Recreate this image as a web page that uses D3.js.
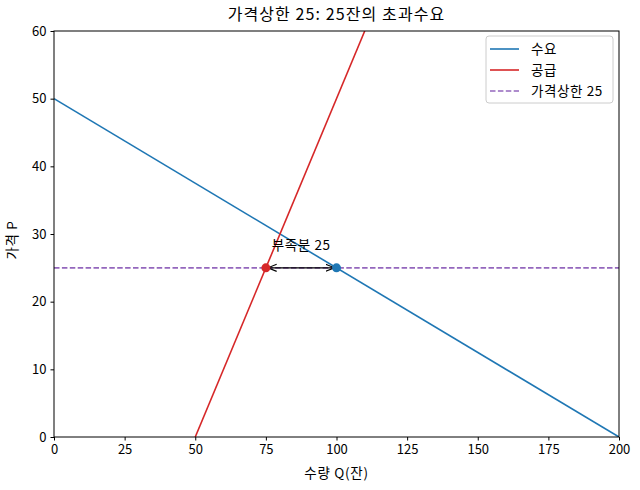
<!DOCTYPE html>
<html>
<head>
<meta charset="utf-8">
<script src="https://cdn.jsdelivr.net/npm/d3@7"></script>
<style>
  body { margin: 0; background: #fff; }
  text { font-family: "Noto Sans CJK KR", "Noto Sans", sans-serif; }
</style>
</head>
<body>
<div id="chart"></div>
<script>
// data
const demandQ = [0, 200];
const demandP = [50, 0];
const supplyQ = [50, 110];
const supplyP = [0, 60];
const ceilingPrice = 25;
const supplyAtCeiling = 75;
const demandAtCeiling = 100;
const xTicks = [0, 25, 50, 75, 100, 125, 150, 175, 200];
const yTicks = [0, 10, 20, 30, 40, 50, 60];
const labels = ["수요", "공급", "가격상한 25"];

const svgWidth = 640;
const svgHeight = 490;
const margin = { top: 31, right: 21, bottom: 53, left: 54 };
const width = svgWidth - margin.left - margin.right;
const height = svgHeight - margin.top - margin.bottom;

const blue = "#1f77b4", red = "#d62728", purple = "#9467bd";

const svg = d3.select("#chart")
  .append("svg")
  .attr("width", svgWidth)
  .attr("height", svgHeight);

const g = svg.append("g")
  .attr("transform", `translate(${margin.left},${margin.top})`);

const xScale = d3.scaleLinear().domain([0, 200]).range([0, width]);
const yScale = d3.scaleLinear().domain([0, 60]).range([height, 0]);

g.append("defs").append("clipPath").attr("id", "clip")
  .append("rect").attr("width", width).attr("height", height);

const plot = g.append("g").attr("clip-path", "url(#clip)");
const line = d3.line().x(d => xScale(d[0])).y(d => yScale(d[1]));

plot.append("path")
  .datum(demandQ.map((q, i) => [q, demandP[i]]))
  .attr("d", line).attr("fill", "none").attr("stroke", blue).attr("stroke-width", 1.6);

plot.append("path")
  .datum(supplyQ.map((q, i) => [q, supplyP[i]]))
  .attr("d", line).attr("fill", "none").attr("stroke", red).attr("stroke-width", 1.6);

plot.append("line")
  .attr("x1", 0).attr("x2", width)
  .attr("y1", yScale(ceilingPrice)).attr("y2", yScale(ceilingPrice))
  .attr("stroke", purple).attr("stroke-width", 1.6).attr("stroke-dasharray", "5.5,2.4");

// double arrow for shortage
const defs = svg.append("defs");
defs.append("marker").attr("id", "arr").attr("viewBox", "0 0 10 10")
  .attr("refX", 10).attr("refY", 5).attr("markerWidth", 8).attr("markerHeight", 8)
  .attr("orient", "auto-start-reverse")
  .append("path").attr("d", "M0,1 L10,5 L0,9").attr("fill", "none").attr("stroke", "#000").attr("stroke-width", 1.3);

g.append("line")
  .attr("x1", xScale(supplyAtCeiling) + 2).attr("x2", xScale(demandAtCeiling) - 2)
  .attr("y1", yScale(ceilingPrice)).attr("y2", yScale(ceilingPrice))
  .attr("stroke", "#000").attr("stroke-width", 1.1)
  .attr("marker-start", "url(#arr)").attr("marker-end", "url(#arr)");

g.append("circle").attr("cx", xScale(supplyAtCeiling)).attr("cy", yScale(ceilingPrice))
  .attr("r", 4.5).attr("fill", red);
g.append("circle").attr("cx", xScale(demandAtCeiling)).attr("cy", yScale(ceilingPrice))
  .attr("r", 4.5).attr("fill", blue);

g.append("text")
  .attr("x", xScale((supplyAtCeiling + demandAtCeiling) / 2))
  .attr("y", yScale(27.6))
  .attr("text-anchor", "middle").attr("font-size", 13.5).attr("letter-spacing", 0.6)
  .text("부족분 " + (demandAtCeiling - supplyAtCeiling));

// axes
const xAxis = d3.axisBottom(xScale).tickValues(xTicks).tickSizeOuter(0).tickSize(3.5).tickPadding(4);
const yAxis = d3.axisLeft(yScale).tickValues(yTicks).tickSizeOuter(0).tickSize(3.5).tickPadding(4);

g.append("g").attr("transform", `translate(0,${height})`).call(xAxis)
  .call(a => a.select(".domain").remove())
  .selectAll("text").attr("font-size", 13).attr("fill", "#000");
g.append("g").call(yAxis)
  .call(a => a.select(".domain").remove())
  .selectAll("text").attr("font-size", 13).attr("fill", "#000");

g.append("rect").attr("width", width).attr("height", height)
  .attr("fill", "none").attr("stroke", "#000").attr("stroke-width", 1);

// labels
svg.append("text").attr("x", margin.left + width / 2).attr("y", 20)
  .attr("text-anchor", "middle").attr("font-size", 16).attr("letter-spacing", 1.1)
  .text("가격상한 25: 25잔의 초과수요");
svg.append("text").attr("x", margin.left + width / 2).attr("y", 478)
  .attr("text-anchor", "middle").attr("font-size", 13.5).attr("letter-spacing", 0.7)
  .text("수량 Q(잔)");
svg.append("text").attr("transform", `translate(17,${margin.top + height / 2 + 6}) rotate(-90)`)
  .attr("text-anchor", "middle").attr("font-size", 13.5).attr("letter-spacing", 0.7)
  .text("가격 P");

// legend
const lg = g.append("g").attr("transform", `translate(${width - 133},5)`);
lg.append("rect").attr("width", 127).attr("height", 67).attr("rx", 3)
  .attr("fill", "#fff").attr("fill-opacity", 0.8).attr("stroke", "#ccc");
const styles = [
  { color: blue, dash: null },
  { color: red, dash: null },
  { color: purple, dash: "5.5,2.4" }
];
labels.forEach((lab, i) => {
  const y = 13 + i * 21;
  lg.append("line").attr("x1", 4).attr("x2", 33).attr("y1", y).attr("y2", y)
    .attr("stroke", styles[i].color).attr("stroke-width", 1.6)
    .attr("stroke-dasharray", styles[i].dash);
  lg.append("text").attr("x", 45).attr("y", y + 5).attr("font-size", 13.5)
    .attr("letter-spacing", 0.6).text(lab);
});
</script>
</body>
</html>
